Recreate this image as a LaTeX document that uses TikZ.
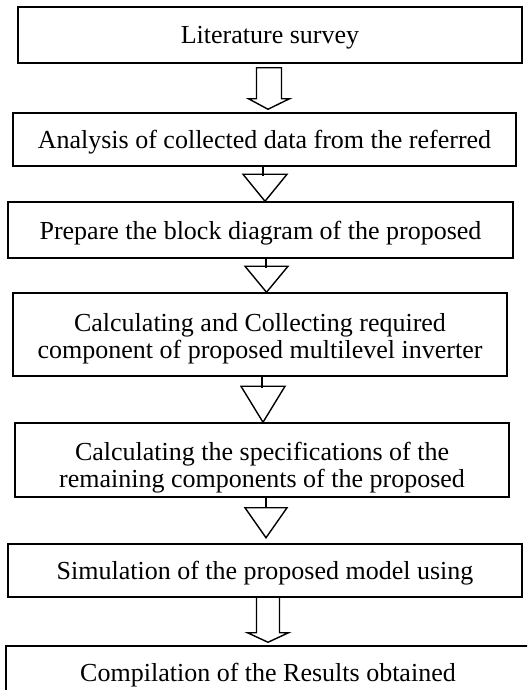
\documentclass[tikz,border=0pt]{standalone}
\usepackage{fontspec}
\setmainfont{Liberation Serif}
\usetikzlibrary{calc}
\begin{document}
\begin{tikzpicture}[x=1pt,y=-1pt,
  txt/.style={font=\fontsize{26}{27}\selectfont},
  box/.style={draw, line width=1.5pt, rectangle, inner sep=0pt, align=center,
    txt, text depth=0pt},
  inlabel/.style={txt, align=center, inner sep=0pt},
  conn/.style={draw, line width=1.4pt, line join=miter}]
\useasboundingbox (0,0) rectangle (527,690);
\clip (0,0) rectangle (527,690);
\node[box, minimum width=504pt, minimum height=56pt] (b1) at (270,35) {Literature survey};
\node[box, minimum width=503pt, minimum height=53pt] (b2) at (264.5,139.5) {Analysis of collected data from the referred};
\node[box, minimum width=505pt, minimum height=56pt] (b3) at (260.5,230) {Prepare the block diagram of the proposed};
\node[box, minimum width=494pt, minimum height=83pt,
  label={[inlabel, yshift=-4.5pt]center:{Calculating and Collecting required\\component of proposed multilevel inverter}}] (b4) at (260,334.5) {};
\node[box, minimum width=494pt, minimum height=74pt,
  label={[inlabel, yshift=-7.5pt]center:{Calculating the specifications of the\\remaining components of the proposed}}] (b5) at (262,460) {};
\node[box, minimum width=514pt, minimum height=53pt] (b6) at (265,570.5) {Simulation of the proposed model using};
\node[box, minimum width=524pt, minimum height=52pt] (b7) at (268,672) {Compilation of the Results obtained};
% x positions of the connectors
\coordinate (a1) at (268,0);
\coordinate (s2) at (263,0);
\coordinate (t2) at (265,0);
\coordinate (s3) at (266,0);
\coordinate (t3) at (266.5,0);
\coordinate (s4) at (262,0);
\coordinate (t4) at (263,0);
\coordinate (s5) at (266,0);
\coordinate (t5) at (266,0);
\coordinate (a6) at (268,0);
% block arrow 1
\draw[conn] ($(b1.south -| a1)+(-11.5,4)$) -- ++(0,31) -- ++(-8,0) -- ($(b2.north -| a1)+(0,-3)$)
  -- ($(b1.south -| a1)+(21.5,35)$) -- ++(-8,0) -- ++(0,-31) -- cycle;
% triangle connectors
\draw[conn] (b2.south -| s2) -- ++(0,9);
\draw[conn] (b3.north -| t2) -- ++(-22,-27) -- ++(44,0) -- cycle;
\draw[conn] (b3.south -| s3) -- ++(0,9);
\draw[conn] (b4.north -| t3) -- ++(-21.5,-26) -- ++(43,0) -- cycle;
\draw[conn] (b4.south -| s4) -- ++(0,11);
\draw[conn] (b5.north -| t4) -- ++(-22,-36) -- ++(44,0) -- cycle;
\draw[conn] (b5.south -| s5) -- ++(0,10);
\draw[conn] ($(b5.south -| t5)+(0,40)$) -- ++(-21,-30) -- ++(42,0) -- cycle;
% block arrow 6
\draw[conn] ($(b6.south -| a6)+(-11.5,0)$) -- ++(0,35) -- ++(-9,0) -- ($(b7.north -| a6)+(0,-3)$)
  -- ($(b6.south -| a6)+(20.5,35)$) -- ++(-9,0) -- ++(0,-35);
\end{tikzpicture}
\end{document}
